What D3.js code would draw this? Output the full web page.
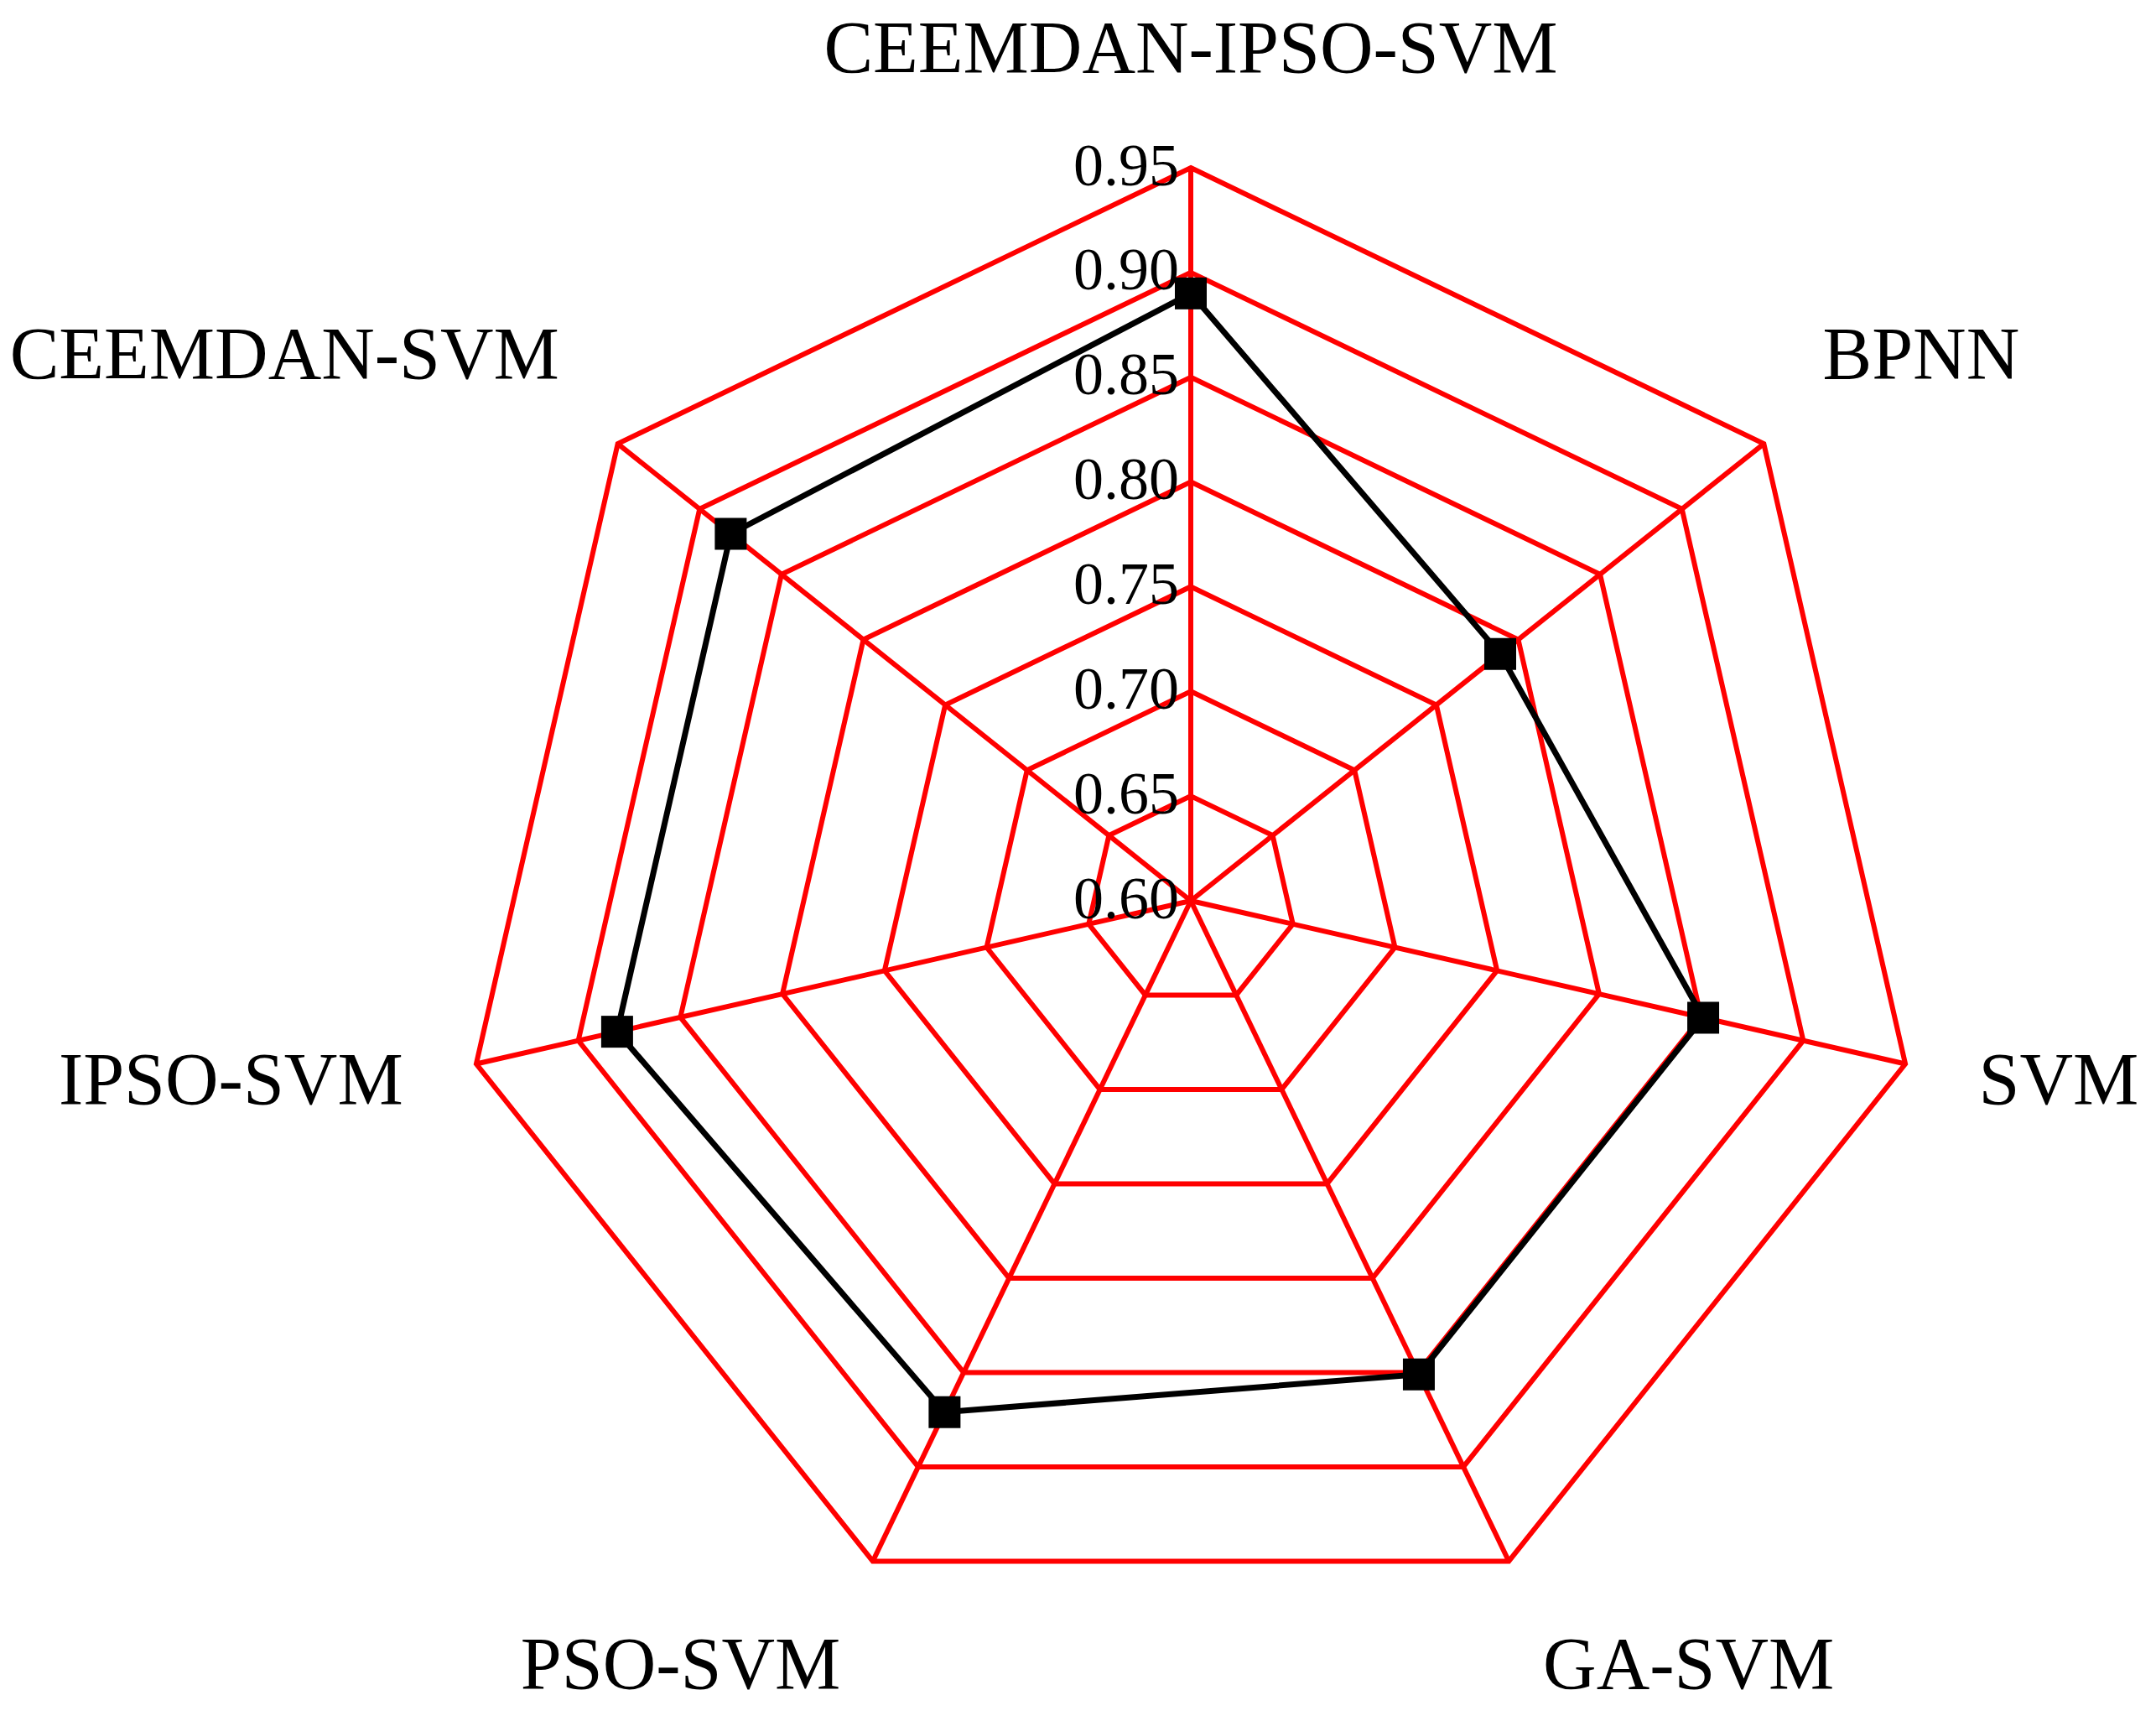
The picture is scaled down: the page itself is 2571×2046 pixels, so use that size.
<!DOCTYPE html>
<html><head><meta charset="utf-8">
<script src="https://cdn.jsdelivr.net/npm/d3@7"></script>
<style>body{margin:0;background:#fff}</style></head>
<body><script>
const categories=["CEEMDAN-IPSO-SVM","BPNN","SVM","GA-SVM","PSO-SVM","IPSO-SVM","CEEMDAN-SVM"];
const values=[0.89,0.789,0.851,0.851,0.871,0.881,0.881];
const ticks=[0.60,0.65,0.70,0.75,0.80,0.85,0.90,0.95];
const W=2571,H=2046,cx=1420,cy=1074,R=874,k=1.64;
// label placement offsets (layout only, displayed-scale units)
const labelOffsets=[[0,-615],[531,-392],[631,135],[362,560],[-371,560],[-698,135],[-659,-392]];
const svg=d3.select("body").append("svg").attr("width",W).attr("height",H);
const r=d3.scaleLinear().domain([0.6,0.95]).range([0,R]);
const n=categories.length;
const ang=i=>i*2*Math.PI/n;
const pt=(i,v)=>[cx+r(v)*Math.sin(ang(i)),cy-r(v)*Math.cos(ang(i))];
const g=svg.append("g");
ticks.slice(1).forEach(t=>{
  g.append("path").attr("d",d3.line()(d3.range(n).map(i=>pt(i,t)))+"Z")
   .attr("fill","none").attr("stroke","#ff0000").attr("stroke-width",6);
});
d3.range(n).forEach(i=>{
  const [x,y]=pt(i,0.95);
  g.append("line").attr("x1",cx).attr("y1",cy).attr("x2",x).attr("y2",y)
   .attr("stroke","#ff0000").attr("stroke-width",6);
});
ticks.forEach(t=>{
  g.append("text").attr("x",cx-14).attr("y",cy-r(t)+4).attr("text-anchor","end")
   .attr("dominant-baseline","middle").attr("font-family","Liberation Serif")
   .attr("font-size",72).text(t.toFixed(2));
});
const pts=values.map((v,i)=>pt(i,v));
g.append("path").attr("d",d3.line()(pts)+"Z").attr("fill","none")
 .attr("stroke","#000").attr("stroke-width",7);
pts.forEach(([x,y])=>g.append("rect").attr("x",x-19).attr("y",y-19)
 .attr("width",38).attr("height",38).attr("fill","#000"));
categories.forEach((c,i)=>{
  const [dx,dy]=labelOffsets[i];
  g.append("text").attr("x",cx+dx*k).attr("y",cy+dy*k).attr("text-anchor","middle")
   .attr("dominant-baseline","middle").attr("font-family","Liberation Serif")
   .attr("font-size",88).text(c);
});
</script></body></html>
